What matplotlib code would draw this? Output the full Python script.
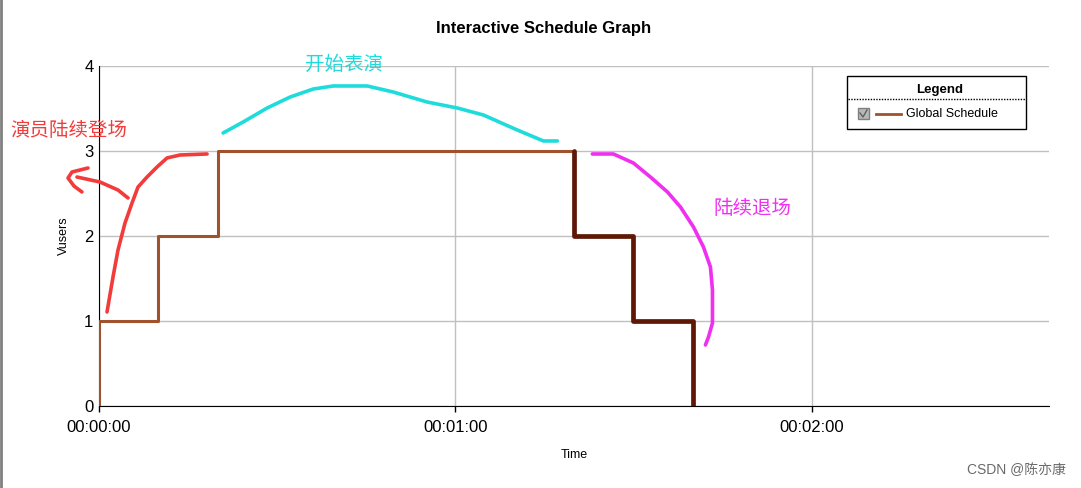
import matplotlib.pyplot as plt
from matplotlib.patches import Rectangle

plt.rcParams['font.family'] = ['Liberation Sans', 'Noto Sans CJK SC', 'DejaVu Sans']

# schedule (seconds, vusers)
up_t = [0, 0, 10, 20, 80]
up_v = [0, 1, 2, 3, 3]
down_t = [80, 80, 90, 100]
down_v = [3, 2, 1, 0]

x_ticks = [0, 60, 120]
x_labels = ['00:00:00', '00:01:00', '00:02:00']
y_ticks = [0, 1, 2, 3, 4]

# hand-drawn marks (seconds, vusers)
red_t = [1.35, 2.36, 3.2, 4.38, 5.56, 6.57, 8.09, 9.78, 11.46, 13.65, 18.2]
red_v = [1.106, 1.518, 1.835, 2.153, 2.388, 2.576, 2.694, 2.812, 2.918, 2.953, 2.965]
arrow_t = [4.89, 3.2, 0.17, -3.71]
arrow_v = [2.447, 2.541, 2.635, 2.694]
head_t = [-1.85, -4.55, -5.22, -4.21, -2.87]
head_v = [2.8, 2.753, 2.682, 2.588, 2.518]
cyan_t = [20.9, 24.27, 28.32, 32.19, 36.07, 39.44, 45.17, 49.55, 55.28, 60.34, 64.72, 70.45, 74.84, 77.2]
cyan_v = [3.212, 3.341, 3.506, 3.635, 3.729, 3.765, 3.765, 3.694, 3.576, 3.506, 3.424, 3.247, 3.118, 3.118]
mag_t = [83.09, 86.63, 90.0, 92.87, 95.74, 97.93, 100.12, 101.8, 102.98, 103.32, 103.32, 102.65, 102.14]
mag_v = [2.965, 2.965, 2.859, 2.694, 2.518, 2.341, 2.106, 1.871, 1.635, 1.365, 0.976, 0.812, 0.718]

RED = '#f23c3c'
CYAN = '#1edcdc'
MAG = '#f030f0'
BROWN = '#a0522d'
DARK = '#5e1805'

fig = plt.figure(figsize=(10.81, 4.88), dpi=100)
ax = fig.add_axes([99 / 1081, 82 / 488, 950 / 1081, 340 / 488])

ax.step(up_t, up_v, where='post', color=BROWN, lw=2.2, zorder=4)
ax.step(down_t, down_v, where='post', color=DARK, lw=3.4, zorder=4, solid_capstyle='round')

ax.set_xlim(0, 160)
ax.set_ylim(0, 4)
ax.set_xticks(x_ticks)
ax.set_xticklabels(x_labels, fontsize=12)
ax.set_yticks(y_ticks)
ax.tick_params(axis='y', length=0, pad=4, labelsize=12)
ax.tick_params(axis='x', length=4, pad=6, width=1)
ax.grid(True, color='#c0c0c0', lw=1)
ax.set_axisbelow(True)
for s in ['top', 'right']:
    ax.spines[s].set_visible(False)
ax.set_xlabel('Time', fontsize=9, labelpad=10)
ax.set_ylabel('Vusers', fontsize=9, labelpad=10)
fig.text(544 / 1081, 1 - 28 / 488, 'Interactive Schedule Graph', fontsize=12,
         fontweight='bold', ha='center', va='center')

kw = dict(lw=2.6, solid_capstyle='round', solid_joinstyle='round', clip_on=False, zorder=5)
ax.plot(red_t, red_v, color=RED, **kw)
ax.plot(arrow_t, arrow_v, color=RED, **kw)
ax.plot(head_t, head_v, color=RED, **kw)
ax.plot(cyan_t, cyan_v, color=CYAN, **kw)
ax.plot(mag_t, mag_v, color=MAG, **kw)

# overlay in pixel coordinates for legend, notes and watermark
ov = fig.add_axes([0, 0, 1, 1], zorder=10)
ov.set_xlim(0, 1081)
ov.set_ylim(488, 0)
ov.axis('off')
ov.patch.set_alpha(0)

cjk = ['Noto Sans CJK SC', 'DejaVu Sans']
ov.text(10, 131, '演员陆续登场', color=RED, fontsize=14, family=cjk, va='center', ha='left')
ov.text(344, 64, '开始表演', color=CYAN, fontsize=14, family=cjk, va='center', ha='center')
ov.text(713, 208, '陆续退场', color=MAG, fontsize=14, family=cjk, va='center', ha='left')
ov.text(1066, 470, 'CSDN @陈亦康', color='#6a6a6a', fontsize=10,
        family=['Liberation Sans', 'Noto Sans CJK SC'], va='center', ha='right')

ov.add_patch(Rectangle((847, 76), 179, 53, fill=False, edgecolor='black', lw=1))
ov.text(940, 90, 'Legend', fontsize=9.5, fontweight='bold', ha='center', va='center')
ov.plot([848, 1025], [99, 99], color='black', lw=1, ls=(0, (1, 1)))
ov.add_patch(Rectangle((858, 108), 11, 11, facecolor='#b8b8b8', edgecolor='#808080', lw=1))
ov.plot([860, 863, 867], [113, 117, 110], color='#606060', lw=1)
ov.plot([876, 901], [114, 114], color=BROWN, lw=2)
ov.text(906, 114, 'Global Schedule', fontsize=9, ha='left', va='center')
ov.plot([1, 1], [0, 488], color='#808080', lw=2)

fig.savefig('out.png', dpi=100)
